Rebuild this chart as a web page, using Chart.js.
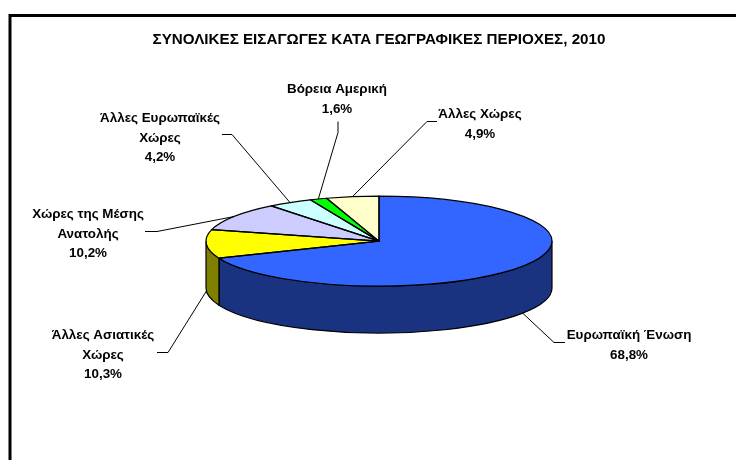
<!DOCTYPE html>
<html>
<head>
<meta charset="utf-8">
<script src="https://cdn.jsdelivr.net/npm/chart.js@4"></script>
<style>
    body { margin: 0; background: #fff; }
    canvas { display: block; }
</style>
</head>
<body>
<canvas id="myChart" width="736" height="460"></canvas>
<script>
const titulo = 'ΣΥΝΟΛΙΚΕΣ ΕΙΣΑΓΩΓΕΣ ΚΑΤΑ ΓΕΩΓΡΑΦΙΚΕΣ ΠΕΡΙΟΧΕΣ, 2010';
const categorias = ['Ευρωπαϊκή Ένωση', 'Άλλες Ασιατικές Χώρες', 'Χώρες της Μέσης Ανατολής',
                    'Άλλες Ευρωπαϊκές Χώρες', 'Βόρεια Αμερική', 'Άλλες Χώρες'];
const valores = [68.8, 10.3, 10.2, 4.2, 1.6, 4.9];
const rotulos = [['Ευρωπαϊκή Ένωση'], ['Άλλες Ασιατικές', 'Χώρες'], ['Χώρες της Μέσης', 'Ανατολής'],
                 ['Άλλες Ευρωπαϊκές', 'Χώρες'], ['Βόρεια Αμερική'], ['Άλλες Χώρες']];

const coresTopo = ['#3366FF', '#FFFF00', '#CCCCFF', '#CCFFFF', '#00FF00', '#FFFFCC'];
const coresLado = ['#1A3380', '#808000', '#666680', '#668080', '#008000', '#808066'];

// layout of the labels: centre x, first baseline, line start and elbow of the leader
const posRotulos = [
    { x: 629, y: 339, de: [565, 342], cotovelo: [554, 342] },
    { x: 103, y: 339, de: [157, 352], cotovelo: [168, 352] },
    { x: 88,  y: 218, de: [145, 231], cotovelo: [157, 231] },
    { x: 160, y: 122, de: [222, 134], cotovelo: [232, 134] },
    { x: 337, y: 93,  de: [338, 121], cotovelo: [338, 132] },
    { x: 480, y: 118, de: [437, 121], cotovelo: [427, 121] }
];

const achatamento = 45 / 173;
const profundidade = 47;
const fonte = 'bold 13.4px "Liberation Sans"';

function arcos(chart) {
    return chart.getDatasetMeta(0).data.map(a =>
        a.getProps(['x', 'y', 'startAngle', 'endAngle', 'outerRadius'], true));
}

const pizza3d = {
    id: 'pizza3d',
    beforeDraw(chart) {
        const ctx = chart.ctx;
        // frame, runs off the right and bottom of the picture
        ctx.save();
        ctx.strokeStyle = '#000';
        ctx.lineWidth = 3;
        ctx.beginPath();
        ctx.moveTo(10, 470);
        ctx.lineTo(10, 15.5);
        ctx.lineTo(746, 15.5);
        ctx.stroke();
        ctx.restore();
    },
    beforeDatasetsDraw(chart) {
        const ctx = chart.ctx;
        const lista = arcos(chart);
        ctx.save();
        ctx.strokeStyle = '#000';
        ctx.lineWidth = 1.2;
        lista.forEach((a, i) => {
            const ini = Math.max(a.startAngle, 0);
            const fim = Math.min(a.endAngle, Math.PI);
            if (fim <= ini) return;
            const rx = a.outerRadius, ry = rx * achatamento;
            ctx.beginPath();
            ctx.ellipse(a.x, a.y, rx, ry, 0, ini, fim);
            ctx.ellipse(a.x, a.y + profundidade, rx, ry, 0, fim, ini, true);
            ctx.closePath();
            ctx.fillStyle = coresLado[i];
            ctx.fill();
            ctx.stroke();
        });
        ctx.restore();
        // the library draws the slices as circles, squashed here into the ellipse
        const a0 = lista[0];
        ctx.save();
        ctx.translate(a0.x, a0.y);
        ctx.scale(1, achatamento);
        ctx.translate(-a0.x, -a0.y);
    },
    afterDatasetsDraw(chart) {
        const ctx = chart.ctx;
        ctx.restore();
        const lista = arcos(chart);
        ctx.save();
        ctx.strokeStyle = '#000';
        ctx.lineWidth = 1.2;
        ctx.lineJoin = 'round';
        lista.forEach(a => {
            const rx = a.outerRadius, ry = rx * achatamento;
            ctx.beginPath();
            ctx.moveTo(a.x, a.y);
            ctx.ellipse(a.x, a.y, rx, ry, 0, a.startAngle, a.endAngle);
            ctx.closePath();
            ctx.stroke();
        });

        ctx.fillStyle = '#000';
        ctx.font = fonte;
        ctx.textAlign = 'center';
        lista.forEach((a, i) => {
            const p = posRotulos[i];
            const meio = (a.startAngle + a.endAngle) / 2;
            const rx = a.outerRadius, ry = rx * achatamento;
            let ax = a.x + Math.cos(meio) * rx;
            let ay = a.y + Math.sin(meio) * ry;
            if (Math.sin(meio) > 0 || i === 1) ay += profundidade;

            ctx.lineWidth = 1;
            ctx.beginPath();
            ctx.moveTo(p.de[0], p.de[1] + 0.5);
            ctx.lineTo(p.cotovelo[0], p.cotovelo[1] + 0.5);
            ctx.lineTo(ax, ay);
            ctx.stroke();

            const linhas = rotulos[i].concat(valores[i].toFixed(1).replace('.', ',') + '%');
            linhas.forEach((t, n) => ctx.fillText(t, p.x, p.y + n * 19.5));
        });
        ctx.restore();
    }
};

new Chart(document.getElementById('myChart').getContext('2d'), {
    type: 'pie',
    data: {
        labels: categorias,
        datasets: [{
            data: valores,
            backgroundColor: coresTopo,
            borderWidth: 0,
            radius: 173
        }]
    },
    options: {
        responsive: false,
        animation: false,
        layout: { padding: { left: 22, right: 0, top: 0, bottom: 27 } },
        plugins: {
            legend: { display: false },
            tooltip: { enabled: false },
            title: {
                display: true,
                text: titulo,
                color: '#000',
                font: { family: '"Liberation Sans"', size: 15.2, weight: 'bold' },
                padding: { top: 31, bottom: 0 }
            }
        }
    },
    plugins: [pizza3d]
});
</script>
</body>
</html>
